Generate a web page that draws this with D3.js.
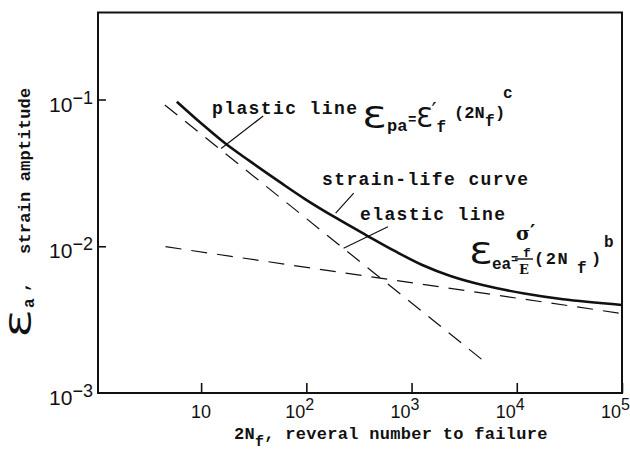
<!DOCTYPE html>
<head>
    <meta charset="utf-8">
    <script src="https://d3js.org/d3.v7.min.js"></script>
    <style>
        body { margin: 0; background: #fff; }
        svg { display: block; }
    </style>
</head>
<body>
    <svg></svg>
    <script>
        // values (reversals 2Nf, strain amplitude)
        var curveN      = [5.88, 10, 16.9, 28.6, 58, 98, 190, 369, 683, 1265, 2344, 4733, 11430, 27540, 100000];
        var curveStrain = [0.0966, 0.0689, 0.0503, 0.0383, 0.0269, 0.0209, 0.01565, 0.01193, 0.00933, 0.00745, 0.00627, 0.00544, 0.00478, 0.00435, 0.00398];

        var plasticN      = [4.52, 4720];
        var plasticStrain = [0.0918, 0.00168];

        var elasticN      = [4.59, 100000];
        var elasticStrain = [0.00993, 0.00348];

        var xTicks     = [10, 100, 1000, 10000, 100000];
        var xTickExps  = ["", "2", "3", "4", "5"];
        var yTicks     = [0.1, 0.01, 0.001];
        var yTickExps  = ["\u22121", "\u22122", "\u22123"];

        // leader lines of the notes, [N, strain] at both ends
        var leaders = [
            [[38.9, 0.0772], [15.5, 0.0463]],
            [[282, 0.0230], [190, 0.0168]],
            [[596, 0.01358], [226, 0.00968]]
        ];

        var MONO = "'Liberation Mono', 'DejaVu Sans Mono', monospace";
        var SANS = "'Liberation Sans', Arial, sans-serif";
        var EPS  = "'DejaVu Sans', sans-serif";
        var SERIF = "'DejaVu Serif', serif";

        var W = 630, H = 453;
        var margin = { top: 12.5, right: 8, bottom: 60, left: 98 },
            width = W - margin.left - margin.right,
            height = H - margin.top - margin.bottom;

        var x = d3.scaleLog()
            .domain([Math.pow(10, 0.02), 1e5])
            .range([0, width]);
        var y = d3.scaleLog()
            .domain([1e-3, Math.pow(10, -0.407)])
            .range([height, 0]);

        var svg = d3.select("svg")
            .attr("width", W)
            .attr("height", H);

        var g = svg.append("g")
            .attr("transform", "translate(" + margin.left + "," + margin.top + ")");

        // axes: ticks point inward
        g.append("g")
            .attr("transform", "translate(0," + height + ")")
            .call(d3.axisBottom(x).tickValues(xTicks).tickSize(-10).tickFormat(""));
        g.append("g")
            .call(d3.axisLeft(y).tickValues(yTicks.slice(0, 2)).tickSize(-8).tickFormat(""));
        g.selectAll(".domain").remove();
        g.selectAll(".tick line").attr("stroke", "#111").attr("stroke-width", 1.6);

        // frame
        g.append("rect")
            .attr("width", width)
            .attr("height", height)
            .attr("fill", "none")
            .attr("stroke", "#111")
            .attr("stroke-width", 2);

        // x tick labels
        xTicks.forEach(function (v, i) {
            var t = g.append("text")
                .attr("y", height + 25)
                .attr("font-family", SANS)
                .attr("font-size", 18)
                .attr("fill", "#111");
            if (xTickExps[i] === "") {
                t.attr("x", x(v)).attr("text-anchor", "middle").text("10");
            } else {
                t.attr("x", x(v) - 21).text("10");
                t.append("tspan").attr("font-size", 16).attr("dy", -8).text(xTickExps[i]);
            }
        });

        // y tick labels
        yTicks.forEach(function (v, i) {
            var t = g.append("text")
                .attr("x", -5)
                .attr("y", y(v) + 12)
                .attr("text-anchor", "end")
                .attr("font-family", SANS)
                .attr("font-size", 21)
                .attr("fill", "#111")
                .text("10");
            t.append("tspan").attr("font-size", 18).attr("dy", -8).text(yTickExps[i]);
        });

        var line = d3.line()
            .x(function (d) { return x(d[0]); })
            .y(function (d) { return y(d[1]); });

        // elastic and plastic lines
        [[plasticN, plasticStrain], [elasticN, elasticStrain]].forEach(function (s) {
            g.append("path")
                .datum(d3.zip(s[0], s[1]))
                .attr("d", line)
                .attr("fill", "none")
                .attr("stroke", "#111")
                .attr("stroke-width", 1.2)
                .attr("stroke-dasharray", "16,10");
        });

        // strain-life curve
        var smooth = d3.line()
            .x(function (d) { return x(d[0]); })
            .y(function (d) { return y(d[1]); })
            .curve(d3.curveCatmullRom.alpha(0.5));
        g.append("path")
            .datum(d3.zip(curveN, curveStrain))
            .attr("d", smooth)
            .attr("fill", "none")
            .attr("stroke", "#111")
            .attr("stroke-width", 2.6);

        leaders.forEach(function (l) {
            g.append("path")
                .datum(l)
                .attr("d", line)
                .attr("fill", "none")
                .attr("stroke", "#111")
                .attr("stroke-width", 1.2);
        });

        // notes, drawn in page coordinates
        function txt(px, py, s, size, fam, ls) {
            return svg.append("text")
                .attr("x", px)
                .attr("y", py)
                .attr("font-family", fam || MONO)
                .attr("font-size", size || 18)
                .attr("font-weight", "bold")
                .attr("letter-spacing", ls == null ? 1.4 : ls)
                .attr("fill", "#111")
                .text(s);
        }
        function eps(px, py, w, size) {
            return svg.append("text")
                .attr("x", px)
                .attr("y", py)
                .attr("font-family", EPS)
                .attr("font-size", size)
                .attr("textLength", w)
                .attr("lengthAdjust", "spacingAndGlyphs")
                .attr("fill", "#111")
                .text("\u0190");
        }

        txt(212, 114, "plastic line");
        txt(322, 185, "strain-life curve");
        txt(360, 220, "elastic line");

        // plastic formula
        eps(362, 128, 24, 31);
        txt(387, 131, "pa", 17, MONO, 0);
        txt(408, 124, "=", 14, MONO, 0);
        var ef = txt(416, 127, "\u0190", 27, EPS, 0).attr("font-weight", "normal");
        ef.append("tspan").attr("font-size", 22).attr("dx", -1).attr("dy", -9).text("\u2032");
        ef.append("tspan").attr("font-family", MONO).attr("font-weight", "bold")
            .attr("font-size", 16).attr("dy", 14).text("f");
        txt(454, 118, "(2N", 17, MONO, 0);
        txt(485, 126, "f", 16, MONO, 0);
        txt(495, 118, ")", 17, MONO, 0);
        txt(503, 98, "c", 16, MONO, 0);

        // elastic formula
        eps(469, 264, 23, 31);
        txt(492, 269, "ea", 16, MONO, 0);
        txt(511, 263, "=", 12, MONO, 0);
        var sf = txt(516, 240, "\u03c3", 19, SERIF, 0);
        sf.append("tspan").attr("font-family", EPS).attr("font-size", 20).attr("dy", -2).text("\u2032");
        txt(523, 257, "f", 13, MONO, 0);
        svg.append("line")
            .attr("x1", 515).attr("x2", 533)
            .attr("y1", 259).attr("y2", 259)
            .attr("stroke", "#111").attr("stroke-width", 1.4);
        txt(519, 274, "E", 13, SERIF, 0);
        txt(534, 264, "(2N", 17, MONO, 1.5);
        txt(577, 273, "f", 16, MONO, 0);
        txt(591, 264, ")", 17, MONO, 0);
        txt(604, 247, "b", 16, MONO, 0);

        // x title
        var xt = txt(234, 439, "2N", 17, MONO, 0.3);
        xt.append("tspan").attr("font-size", 15).attr("dy", 7).text("f");
        xt.append("tspan").attr("dy", -7).text(", reveral number to failure");

        // y title, rotated
        var yt = svg.append("g").attr("transform", "translate(31,338) rotate(-90)");
        yt.append("text")
            .attr("font-family", EPS)
            .attr("font-size", 30)
            .attr("textLength", 28)
            .attr("lengthAdjust", "spacingAndGlyphs")
            .attr("fill", "#111")
            .text("\u0190");
        yt.append("text").attr("x", 30).attr("y", 3)
            .attr("font-family", MONO).attr("font-size", 16).attr("font-weight", "bold")
            .attr("fill", "#111").text("a");
        yt.append("text").attr("x", 46).attr("y", -3)
            .attr("font-family", MONO).attr("font-size", 17).attr("font-weight", "bold")
            .attr("fill", "#111").text(",");
        yt.append("text").attr("x", 84).attr("y", -1)
            .attr("font-family", MONO).attr("font-size", 17).attr("font-weight", "bold")
            .attr("letter-spacing", 0.2)
            .attr("fill", "#111").text("strain amptitude");
    </script>
</body>
